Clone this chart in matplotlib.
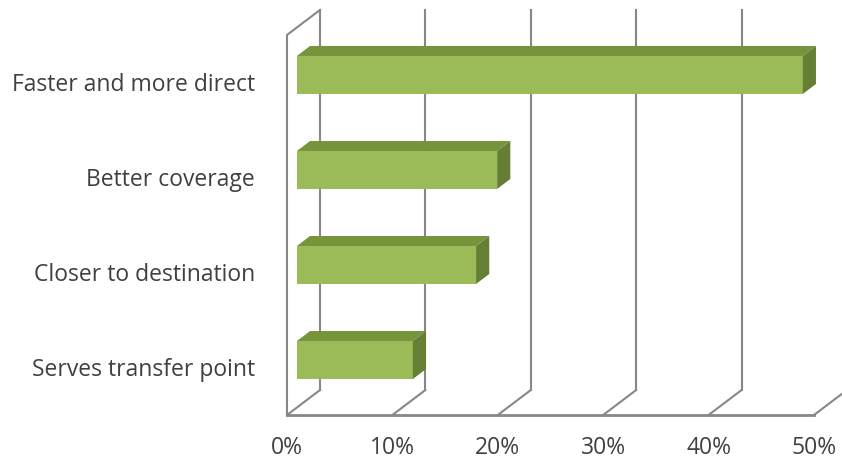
import numpy as np
import matplotlib
matplotlib.use('Agg')
import matplotlib.pyplot as plt
from matplotlib.patches import Polygon

categories = ['Serves transfer point', 'Closer to destination', 'Better coverage', 'Faster and more direct']
values = [11, 17, 19, 48]
ticks = [0, 10, 20, 30, 40, 50]
tick_labels = ['0%', '10%', '20%', '30%', '40%', '50%']

# fake 3d: depth offset in data units (percent, category)
DX, DY = 3.13, 0.263
d0, d1 = 0.3, 0.7     # bar sits in the middle of the depth
h = 0.2

def p(v, y, d):
    return (v + d * DX, y + d * DY)

fig = plt.figure(figsize=(8.42, 4.63), dpi=100)
ax = fig.add_axes([0, 0, 1, 1])
ax.set_xlim(-27.23, 52.66)
ax.set_ylim(-1.005, 3.868)
ax.axis('off')

grid = '#878787'
lo, hi = -0.5, 3.5
# back wall lines and floor lines
for t in ticks:
    ax.plot(*zip(p(t, lo, 1), p(t, hi, 1)), color=grid, lw=1.5, zorder=1)
    ax.plot(*zip(p(t, lo, 0), p(t, lo, 1)), color=grid, lw=1.5, zorder=1)
# left wall
ax.plot(*zip(p(0, lo, 0), p(0, hi, 0), p(0, hi, 1)), color=grid, lw=1.5, zorder=1)
ax.plot(*zip(p(0, lo, 0), p(50, lo, 0)), color=grid, lw=2, zorder=1)

front_c, top_c, side_c = '#9BBB59', '#77933C', '#677F35'
for i, v in enumerate(values):
    front = [p(0, i - h, d0), p(v, i - h, d0), p(v, i + h, d0), p(0, i + h, d0)]
    top = [p(0, i + h, d0), p(v, i + h, d0), p(v, i + h, d1), p(0, i + h, d1)]
    side = [p(v, i - h, d0), p(v, i - h, d1), p(v, i + h, d1), p(v, i + h, d0)]
    ax.add_patch(Polygon(front, closed=True, fc=front_c, ec='none', zorder=3))
    ax.add_patch(Polygon(top, closed=True, fc=top_c, ec='none', zorder=3))
    ax.add_patch(Polygon(side, closed=True, fc=side_c, ec='none', zorder=3))

font = 'Open Sans'
for i, c in enumerate(categories):
    ax.text(-3.04, i - 0.03, c, ha='right', va='center', fontsize=16.5,
            color='#404040', family=font)
for t, l in zip(ticks, tick_labels):
    ax.text(t, -0.85, l, ha='center', va='center', fontsize=16.5,
            color='#404040', family=font)

fig.savefig('out.png', dpi=100)
